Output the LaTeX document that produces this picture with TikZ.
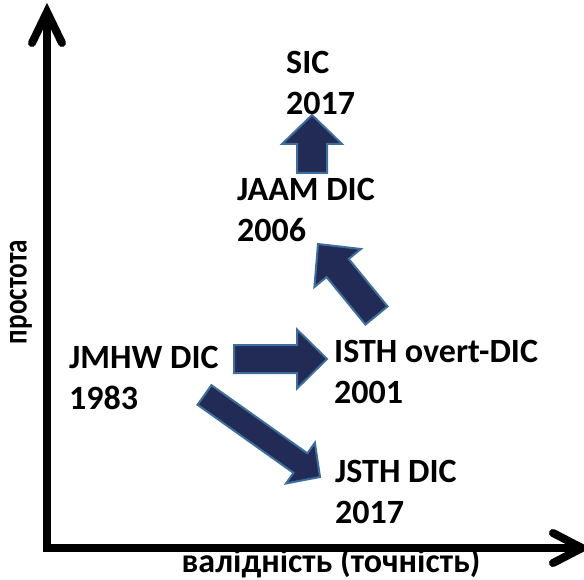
\documentclass[tikz,border=0pt]{standalone}
\usepackage{fontspec}
\setmainfont{Carlito}
\usetikzlibrary{calc}
\definecolor{navy}{HTML}{222B55}
\definecolor{edgeblue}{HTML}{3F6E9C}
\tikzset{
  lbl/.style={font=\bfseries\fontsize{34}{41}\selectfont, inner sep=0pt, anchor=base west, align=left},
  axlbl/.style={font=\bfseries\fontsize{34}{40}\selectfont, inner sep=0pt},
  axisline/.style={line width=8pt, line join=miter},
  barb/.style={line width=8pt, line cap=round, line join=miter},
  blockarr/.style={fill=navy, draw=edgeblue, line width=2pt, line join=miter},
}
% #1 tail, #2 tip, #3 half shaft width, #4 half head width, #5 head length
\newcommand\blockarrow[5]{%
  \coordinate (ba-h) at ($(#2)!#5!(#1)$);
  \draw[blockarr] ($(#1)!#3!90:(#2)$) -- ($(ba-h)!#3!90:(#2)$) -- ($(ba-h)!#4!90:(#2)$)
    -- (#2) -- ($(ba-h)!#4!-90:(#2)$) -- ($(ba-h)!#3!-90:(#2)$) -- ($(#1)!#3!-90:(#2)$) -- cycle;
}
\begin{document}
\begin{tikzpicture}[x=1pt,y=-1pt]
\useasboundingbox (0,0) rectangle (584,580);
% axes
\coordinate (origin) at (47,548);
\coordinate (ytip) at (47,12);
\coordinate (xtip) at (582,548);
\draw[axisline] (ytip) -- (origin) -- (xtip);
\draw[barb] ($(ytip)+(-15,31)$) -- (ytip) -- ($(ytip)+(15,31)$);
\draw[barb] ($(xtip)+(-29,-15)$) -- (xtip) -- ($(xtip)+(-29,15)$);
\node[axlbl, rotate=90] (ylab) at (21,292) {\scalebox{0.8}[1]{простота}};
\node[axlbl, anchor=base] (xlab) at (331,572) {валідність (точність)};
% labels (anchor = baseline of the second line)
\node[lbl] (jmhw) at (69,409) {JMHW DIC\\1983};
\node[lbl] (isth) at (334,403) {ISTH overt-DIC\\2001};
\node[lbl] (jsth) at (335,523) {JSTH DIC\\2017};
\node[lbl] (jaam) at (237,242) {JAAM DIC\\2006};
\node[lbl] (sic) at (286,115) {SIC\\2017};
% block arrows
\coordinate (a1s) at (234,359);   \coordinate (a1e) at (327,359);
\coordinate (a2s) at (204.5,395); \coordinate (a2e) at (320,477);
\coordinate (a3s) at (376.5,315.5); \coordinate (a3e) at (318,244);
\coordinate (a4s) at (312,173);   \coordinate (a4e) at (312,115);
\blockarrow{a1s}{a1e}{14pt}{29.5pt}{30pt}
\blockarrow{a2s}{a2e}{12pt}{25pt}{24pt}
\blockarrow{a3s}{a3e}{14.3pt}{30pt}{31pt}
\blockarrow{a4s}{a4e}{15pt}{30pt}{29pt}
\end{tikzpicture}
\end{document}
